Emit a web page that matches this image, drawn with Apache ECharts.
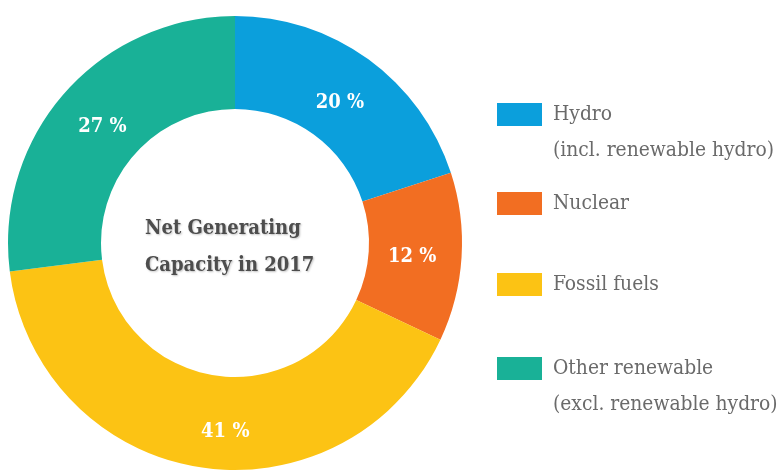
<!DOCTYPE html>
<html>
<head>
<meta charset="utf-8">
<script src="https://cdn.jsdelivr.net/npm/echarts@6/dist/echarts.min.js"></script>
<style>
  html, body { margin: 0; padding: 0; background: #fff; }
  #chart { width: 781px; height: 472px; }
</style>
</head>
<body>
<div id="chart"></div>
<script>
    // data
    var categories = ['Hydro', 'Nuclear', 'Fossil fuels', 'Other renewable'];
    var legendNames = ['Hydro\n(incl. renewable hydro)', 'Nuclear', 'Fossil fuels', 'Other renewable\n(excl. renewable hydro)'];
    var shares = [20, 12, 41, 27];
    var colors = ['#0b9fdc', '#f26e22', '#fcc314', '#19b197'];

    var slabFont = '"DejaVu Serif Condensed", "DejaVu Serif", serif';
    var lineH = 36;
    // where each legend swatch sits (top edge)
    var swatchTops = [103, 192, 273, 357];
    var labelShift = [[-3, 8], [-6, 2], [19, 8], [5, 5]];

    var pieData = categories.map(function(name, i){
        return {
            name: name,
            value: shares[i],
            itemStyle: { color: colors[i] },
            label: { offset: labelShift[i] }
        };
    });

    var legends = categories.map(function(name, i){
        var twoLines = legendNames[i].indexOf('\n') >= 0;
        // two-line names get an empty first line so the first real line sits beside the swatch
        var txt = twoLines ? '\n' + legendNames[i] : legendNames[i];
        var boxH = (twoLines ? 3 : 1) * lineH;
        return {
            data: [name],
            orient: 'vertical',
            left: 497,
            top: swatchTops[i] - (boxH / 2 - 23 / 2),
            padding: 0,
            itemWidth: 45,
            itemHeight: 23,
            itemGap: 11,
            icon: 'rect',
            selectedMode: false,
            formatter: function(){ return txt; },
            textStyle: {
                fontFamily: slabFont,
                fontSize: 20.8,
                color: '#6a6a6a',
                lineHeight: lineH,
                padding: [0, 0, 0, 6]
            }
        };
    });

    var myChart = echarts.init(document.getElementById('chart'), null, { renderer: 'canvas' });
    myChart.setOption({
        animation: false,
        title: {
            text: 'Net Generating\nCapacity in 2017',
            left: 145,
            top: 210,
            padding: 0,
            textAlign: 'left',
            textStyle: {
                fontFamily: slabFont,
                fontSize: 20,
                fontWeight: 'bold',
                color: '#4d4d4d',
                lineHeight: 37,
                textShadowColor: 'rgba(0,0,0,0.25)',
                textShadowBlur: 2,
                textShadowOffsetX: 1,
                textShadowOffsetY: 1
            }
        },
        legend: legends,
        series: [{
            type: 'pie',
            center: [235, 243],
            radius: [134, 227],
            startAngle: 90,
            clockwise: true,
            avoidLabelOverlap: false,
            label: {
                show: true,
                position: 'inside',
                formatter: function(p){ return p.value + ' %'; },
                color: '#fff',
                fontFamily: slabFont,
                fontSize: 20,
                fontWeight: 'bold',
                textBorderWidth: 0
            },
            labelLine: { show: false },
            emphasis: { disabled: true },
            data: pieData
        }]
    });
</script>
</body>
</html>
